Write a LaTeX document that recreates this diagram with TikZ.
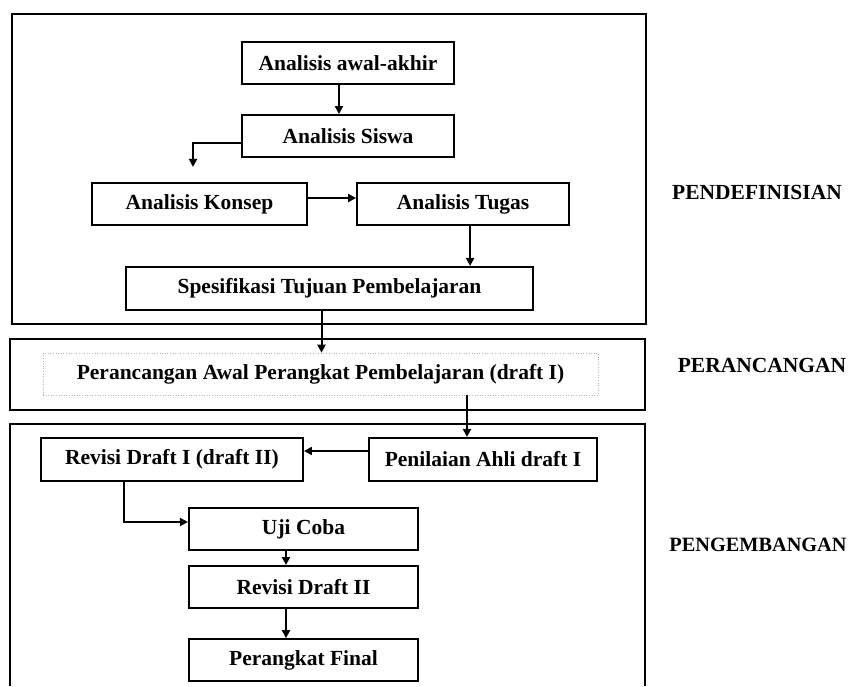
\documentclass[tikz,border=0pt]{standalone}
\usepackage{fontspec}
\setmainfont{Liberation Serif}
\usepackage{tikz}
\usetikzlibrary{arrows.meta, positioning}

\tikzset{
  stage/.style={draw, line width=2.1pt, inner sep=0pt, minimum height=42pt,
    font=\fontsize{21.5}{24}\selectfont\bfseries},
  group/.style={draw, line width=1.1pt},
  flow/.style={line width=2pt, -{Triangle[length=8pt,width=8pt]}},
  phase/.style={font=\fontsize{21.5}{24}\selectfont\bfseries},
}

\begin{document}
\begin{tikzpicture}[x=1pt, y=-1pt]
  \useasboundingbox (0,0) rectangle (851,686);

  % frames of the three phases
  \draw[group] (12,14) rectangle (646,324);
  \draw[group] (10,339) rectangle (645,410);
  \draw[group] (10,686) |- (645,424) -- (645,686);

  % pendefinisian
  \node[stage, minimum width=212pt] (awal) at (348,63) {Analisis awal-akhir};
  \node[stage, minimum width=212pt, below=29pt of awal] (siswa) {Analisis Siswa};
  \node[stage, minimum width=215pt] (konsep) at (199.5,204) {Analisis Konsep};
  \node[stage, minimum width=212pt, right=48pt of konsep] (tugas) {Analisis Tugas};
  \node[stage, minimum width=407pt, minimum height=43pt] (spes) at (329.5,288.5) {Spesifikasi Tujuan Pembelajaran};

  % perancangan
  \node[draw=gray!60, dotted, line width=0.6pt, inner sep=0pt, minimum width=555pt,
    minimum height=42pt, font=\fontsize{21.5}{24}\selectfont\bfseries]
    (awalper) at (320.5,374) {Perancangan Awal Perangkat Pembelajaran (draft I)};

  % pengembangan
  \node[stage, minimum width=228pt, minimum height=43pt] (ahli) at (483,459.5) {Penilaian Ahli draft I};
  \node[stage, minimum width=262pt, minimum height=43pt, left=64pt of ahli] (revisia) {Revisi Draft I (draft II)};
  \node[stage, minimum width=229pt] (uji) at (303.5,529) {Uji Coba};
  \node[stage, minimum width=229pt, below=14pt of uji] (revisib) {Revisi Draft II};
  \node[stage, minimum width=229pt, below=29pt of revisib] (final) {Perangkat Final};

  % phase names
  \node[phase] (p1) at (757,192) {PENDEFINISIAN};
  \node[phase] (p2) at (762,365) {PERANCANGAN};
  \node[phase, font=\fontsize{20.3}{24}\selectfont\bfseries] (p3) at (758,545) {PENGEMBANGAN};

  \draw[flow] ([xshift=-9pt]awal.south) -- ([xshift=-9pt]siswa.north);
  \draw[flow] ([yshift=-6.5pt]siswa.west) -| ([xshift=-6.5pt, yshift=15pt]konsep.north);
  \draw[flow] ([yshift=6pt]konsep.east) -- ([yshift=6pt]tugas.west);
  \draw[flow] ([xshift=7pt]tugas.south) -- ([xshift=7pt]tugas.south |- spes.north);
  \draw[flow] ([xshift=-8pt]spes.south) -- ([xshift=-8pt]spes.south |- awalper.north);
  \draw[flow] ([xshift=-16pt]ahli.north |- awalper.south) -- ([xshift=-16pt]ahli.north);
  \draw[flow] ([yshift=8.5pt]ahli.west) -- ([yshift=8.5pt]revisia.east);
  \draw[flow] ([xshift=-48pt]revisia.south) |- ([yshift=7pt]uji.west);
  \draw[flow] ([xshift=-17.5pt]uji.south) -- ([xshift=-17.5pt]revisib.north);
  \draw[flow] ([xshift=-17.5pt]revisib.south) -- ([xshift=-17.5pt]final.north);
\end{tikzpicture}
\end{document}
